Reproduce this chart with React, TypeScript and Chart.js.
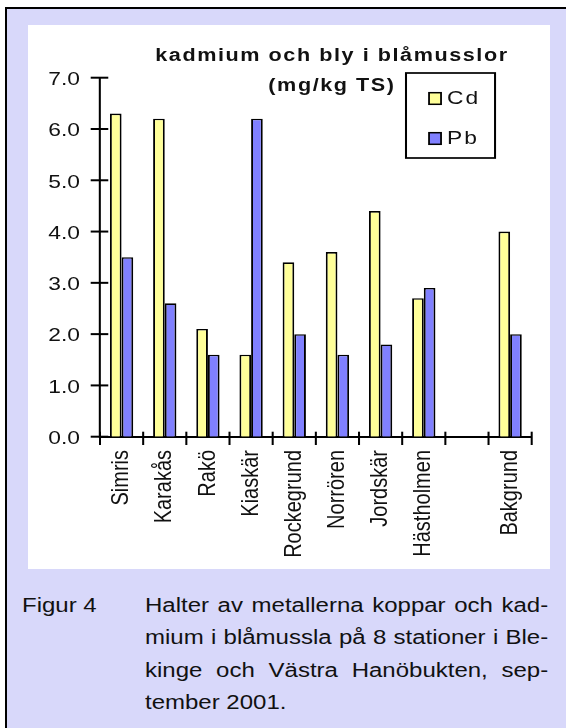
import { useEffect, useRef } from 'react';
import { Chart, registerables } from 'chart.js';

Chart.register(...registerables);

// ---- data ----
const categories = ['Simris', 'Karakås', 'Rakö', 'Kiaskär', 'Rockegrund', 'Norrören', 'Jordskär', 'Hästholmen', '', 'Bakgrund'];
const cdValues = [6.3, 6.2, 2.1, 1.6, 3.4, 3.6, 4.4, 2.7, null, 4.0];
const pbValues = [3.5, 2.6, 1.6, 6.2, 2.0, 1.6, 1.8, 2.9, null, 2.0];
const seriesNames = ['Cd', 'Pb'];
const seriesColors = ['#ffff99', '#8080ff'];
const yMin = 0;
const yMax = 7;
const yStep = 1;
const titleLines = ['kadmium och bly i blåmusslor', '(mg/kg TS)'];
const captionLabel = 'Figur 4';
const captionLines = [
  'Halter av metallerna koppar och kad-',
  'mium i blåmussla på 8 stationer i Ble-',
  'kinge och Västra Hanöbukten, sep-',
  'tember 2001.',
];

// ---- layout ----
const K = 1.2; // horizontal stretch of the original figure
const CW = 522;
const CH = 544;
const FONT = '"Liberation Sans", Arial, sans-serif';

const decorPlugin = {
  id: 'decor',
  beforeDraw(chart: any) {
    const c = chart.ctx;
    c.save();
    c.setTransform(K, 0, 0, 1, 0, 0);
  },
  afterDraw(chart: any) {
    const c: CanvasRenderingContext2D = chart.ctx;
    const { chartArea, scales } = chart;
    const x = scales.x;
    const y = scales.y;
    c.strokeStyle = '#000';
    // y ticks (crossing the axis)
    c.lineWidth = 2;
    y.ticks.forEach((t: any) => {
      const py = y.getPixelForValue(t.value);
      c.beginPath();
      c.moveTo(chartArea.left - 7.75, py);
      c.lineTo(chartArea.left + 6.9, py);
      c.stroke();
    });
    // x ticks at category boundaries
    c.lineWidth = 1.7;
    const n = chart.data.labels.length;
    for (let i = 0; i <= n; i++) {
      const px = x.getPixelForValue(i - 0.5);
      c.beginPath();
      c.moveTo(px, chartArea.bottom - 5);
      c.lineTo(px, chartArea.bottom + 8.3);
      c.stroke();
    }
    // title
    c.fillStyle = '#111';
    c.font = `bold 18px ${FONT}`;
    c.textAlign = 'center';
    c.textBaseline = 'alphabetic';
    (c as any).letterSpacing = '1.3px';
    c.fillText(titleLines[0], 253.3, 36);
    c.fillText(titleLines[1], 253.3, 66);
    // legend
    (c as any).letterSpacing = '1.6px';
    c.lineWidth = 1.7;
    c.strokeRect(315, 48, 74.2, 85);
    c.font = `19px ${FONT}`;
    c.textAlign = 'left';
    const rows = [67.7, 107.7];
    chart.data.datasets.forEach((ds: any, i: number) => {
      const top = rows[i];
      c.fillStyle = ds.backgroundColor;
      c.fillRect(334.2, top, 10, 11.6);
      c.lineWidth = 1.5;
      c.strokeRect(334.2, top, 10, 11.6);
      c.fillStyle = '#111';
      c.fillText(ds.label, 349.2, top + 11.5);
    });
    (c as any).letterSpacing = '0px';
    c.restore();
  },
};

export default function App() {
  const ref = useRef<HTMLCanvasElement>(null);

  useEffect(() => {
    const canvas = ref.current!;
    const chart = new Chart(canvas, {
      type: 'bar',
      data: {
        labels: categories,
        datasets: [
          {
            label: seriesNames[0],
            data: cdValues,
            backgroundColor: seriesColors[0],
            borderColor: '#000',
            borderWidth: 1.6,
            categoryPercentage: 0.54,
            barPercentage: 1.0,
          },
          {
            label: seriesNames[1],
            data: pbValues,
            backgroundColor: seriesColors[1],
            borderColor: '#000',
            borderWidth: 1.6,
            categoryPercentage: 0.54,
            barPercentage: 1.0,
          },
        ],
      },
      options: {
        responsive: false,
        animation: false,
        devicePixelRatio: 1,
        layout: { padding: { left: 0, right: CW - 419.75, top: 52.7, bottom: 0 } },
        plugins: {
          legend: { display: false },
          title: { display: false },
          tooltip: { enabled: false },
        },
        scales: {
          x: {
            grid: { display: false, drawTicks: false },
            border: { display: true, color: '#000', width: 2 },
            afterFit: (s: any) => { s.height = CH - 411.7; },
            ticks: {
              autoSkip: false,
              minRotation: 90,
              maxRotation: 90,
              padding: 13.3,
              color: '#111',
              font: { family: FONT, size: 20 },
            },
          },
          y: {
            min: yMin,
            max: yMax,
            grid: { display: false, drawTicks: false },
            border: { display: true, color: '#000', width: 1.7 },
            afterFit: (s: any) => { s.width = 60; },
            ticks: {
              stepSize: yStep,
              padding: 16.7,
              labelOffset: 2,
              color: '#111',
              font: { family: FONT, size: 19 },
              callback: (v: any) => Number(v).toFixed(1),
            },
          },
        },
      },
      plugins: [decorPlugin],
    });
    return () => chart.destroy();
  }, []);

  const capFont: any = {
    position: 'absolute',
    fontFamily: FONT,
    fontSize: 20,
    lineHeight: '32.3px',
    color: '#111',
    transform: `scaleX(${K})`,
    transformOrigin: '0 0',
  };

  return (
    <div style={{ position: 'fixed', left: 0, top: 0, width: 566, height: 728, overflow: 'hidden', background: '#fff' }}>
      <div
        style={{
          position: 'absolute',
          left: 5,
          top: 7,
          width: 600,
          height: 760,
          borderLeft: '2px solid #000',
          borderTop: '2px solid #000',
          background: '#d8d8fa',
        }}
      />
      <div style={{ position: 'absolute', left: 28, top: 25, width: CW, height: CH, background: '#fff' }}>
        <canvas ref={ref} width={CW} height={CH} style={{ width: CW, height: CH, display: 'block' }} />
      </div>
      <div style={{ ...capFont, left: 22, top: 589, whiteSpace: 'nowrap' }}>{captionLabel}</div>
      <div style={{ ...capFont, left: 145, top: 589, width: 336 }}>
        {captionLines.map((line, i) => (
          <div
            key={i}
            style={{ textAlign: i < captionLines.length - 1 ? 'justify' : 'left', textAlignLast: i < captionLines.length - 1 ? 'justify' : 'left' } as any}
          >
            {line}
          </div>
        ))}
      </div>
    </div>
  );
}
